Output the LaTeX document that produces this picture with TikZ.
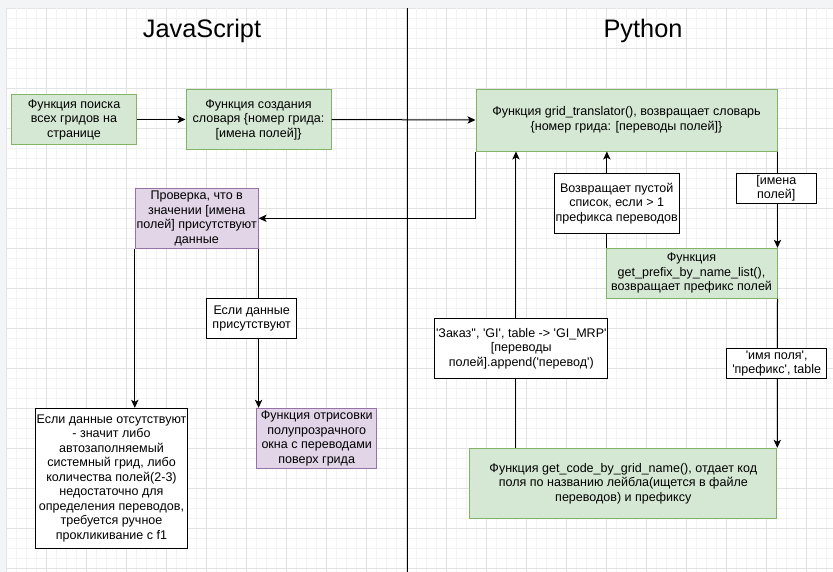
\documentclass[tikz,border=0pt]{standalone}
\usepackage{fontspec}
\setmainfont{Liberation Sans}[Ligatures=TeXOff]
\usetikzlibrary{arrows.meta,calc}
\definecolor{gfill}{HTML}{D5E8D4}
\definecolor{gdraw}{HTML}{82B366}
\definecolor{pfill}{HTML}{E1D5E7}
\definecolor{pdraw}{HTML}{9673A6}
\definecolor{outside}{HTML}{F3F4F6}
\definecolor{minorg}{HTML}{F3F3F3}
\definecolor{majorg}{HTML}{E2E2E2}
\tikzset{
  base/.style={draw, line width=0.75pt, align=center, inner sep=1pt,
    font=\fontsize{9.4}{10.9}\selectfont},
  sz/.style 2 args={minimum width=#1*0.75pt, minimum height=#2*0.75pt},
  gbox/.style={base, fill=gfill, draw=gdraw},
  pbox/.style={base, fill=pfill, draw=pdraw},
  wbox/.style={base, fill=white, draw=black},
  lbl/.style={base, fill=white, draw=black},
  arr/.style={line width=0.75pt, -{Stealth[length=6pt,width=5.5pt,inset=1.5pt]}},
  title/.style={font=\fontsize{19}{22}\selectfont},
}
\begin{document}
\begin{tikzpicture}[x=0.75pt,y=-0.75pt]
\useasboundingbox (0,0) rectangle (833,572);
\fill[outside] (0,0) rectangle (833,572);
\fill[white] (6,8) rectangle (833,572);
\draw[gray!20, line width=0.5pt] (6,572) -- (6,8) -- (833,8);
\foreach \x in {16,26,...,833} \draw[minorg, line width=0.5pt] (\x,8) -- (\x,572);
\foreach \y in {18,28,...,572} \draw[minorg, line width=0.5pt] (6,\y) -- (833,\y);
\foreach \x in {46,86,...,833} \draw[majorg, line width=0.6pt] (\x,8) -- (\x,572);
\foreach \y in {48,88,...,572} \draw[majorg, line width=0.6pt] (6,\y) -- (833,\y);

% divider and titles
\coordinate (dtop) at (407.5,8);
\coordinate (dbot) at (407.5,572);
\draw[line width=0.65pt] (dtop) -- (dbot);
\node[title] (tjs) at (202,31) {JavaScript};
\node[title] (tpy) at (643,31) {Python};

% nodes
\node[gbox, sz={125}{50}] (A) at (74,119.5)
  {Функция поиска\\всех гридов на\\странице};
\node[gbox, sz={145}{60}] (B) at (258.5,119.5)
  {Функция создания\\словаря \{номер грида:\\{[имена полей]\}}};
\node[gbox, sz={301}{62}] (C) at (626.5,120)
  {Функция grid\_translator(), возвращает словарь\\\{номер грида: [переводы полей]\}};
\node[pbox, sz={120}{60}] (D) at (196.7,218.3)
  {Проверка, что в\\значении [имена\\полей] присутствуют\\данные};
\node[wbox, sz={150}{140}] (E) at (111.5,478.3)
  {Если данные отсутствуют\\- значит либо\\автозаполняемый\\системный грид, либо\\количества полей(2-3)\\недостаточно для\\определения переводов,\\требуется ручное\\прокликивание с f1};
\node[pbox, sz={120}{60}] (F) at (316.7,438.3)
  {Функция отрисовки\\полупрозрачного\\окна с переводами\\поверх грида};
\node[gbox, sz={171}{50}] (G) at (691.5,273.3)
  {Функция\\get\_prefix\_by\_name\_list(),\\возвращает префикс полей};
\node[gbox, sz={307}{70}] (H) at (623.3,483.3)
  {Функция get\_code\_by\_grid\_name(), отдает код\\поля по названию лейбла(ищется в файле\\переводов) и префиксу};

% connectors
\draw[arr] (A.east) -- (B.west);
\draw[arr] (B.east) -- (C.west);
\draw[arr] (C.south west) |- (D.east);
\draw[arr] (D.south west) -- (D.south west |- E.north);
\draw[arr] (D.south east) -- (D.south east |- F.north);
\draw[arr] (C.south east) -- (G.north east);
\draw[arr] ([xshift=1]G.north west) -- ([xshift=1]G.north west |- C.south);
\draw[arr] (G.south east) -- (H.north east);
\draw[arr] ([xshift=35pt]H.north west) -- ([xshift=35pt]H.north west |- C.south);

% edge labels
\node[lbl, sz={90}{40}] (L1) at (251.7,318.3)
  {Если данные\\присутствуют};
\node[lbl, sz={120}{60}] (L2) at (616.7,203.3)
  {Возвращает пустой\\список, если > 1\\префикса переводов};
\node[lbl, sz={80}{30}] (L3) at (776.3,188.3)
  {{[имена}\\полей]};
\node[lbl, sz={172}{60}] (L4) at (521.3,348.3)
  {'Заказ'', 'GI', table -> 'GI\_MRP'\\{[переводы}\\полей].append('перевод')};
\node[lbl, sz={100}{30}] (L5) at (776.7,363.3)
  {'имя поля',\\'префикс', table};
\end{tikzpicture}
\end{document}
